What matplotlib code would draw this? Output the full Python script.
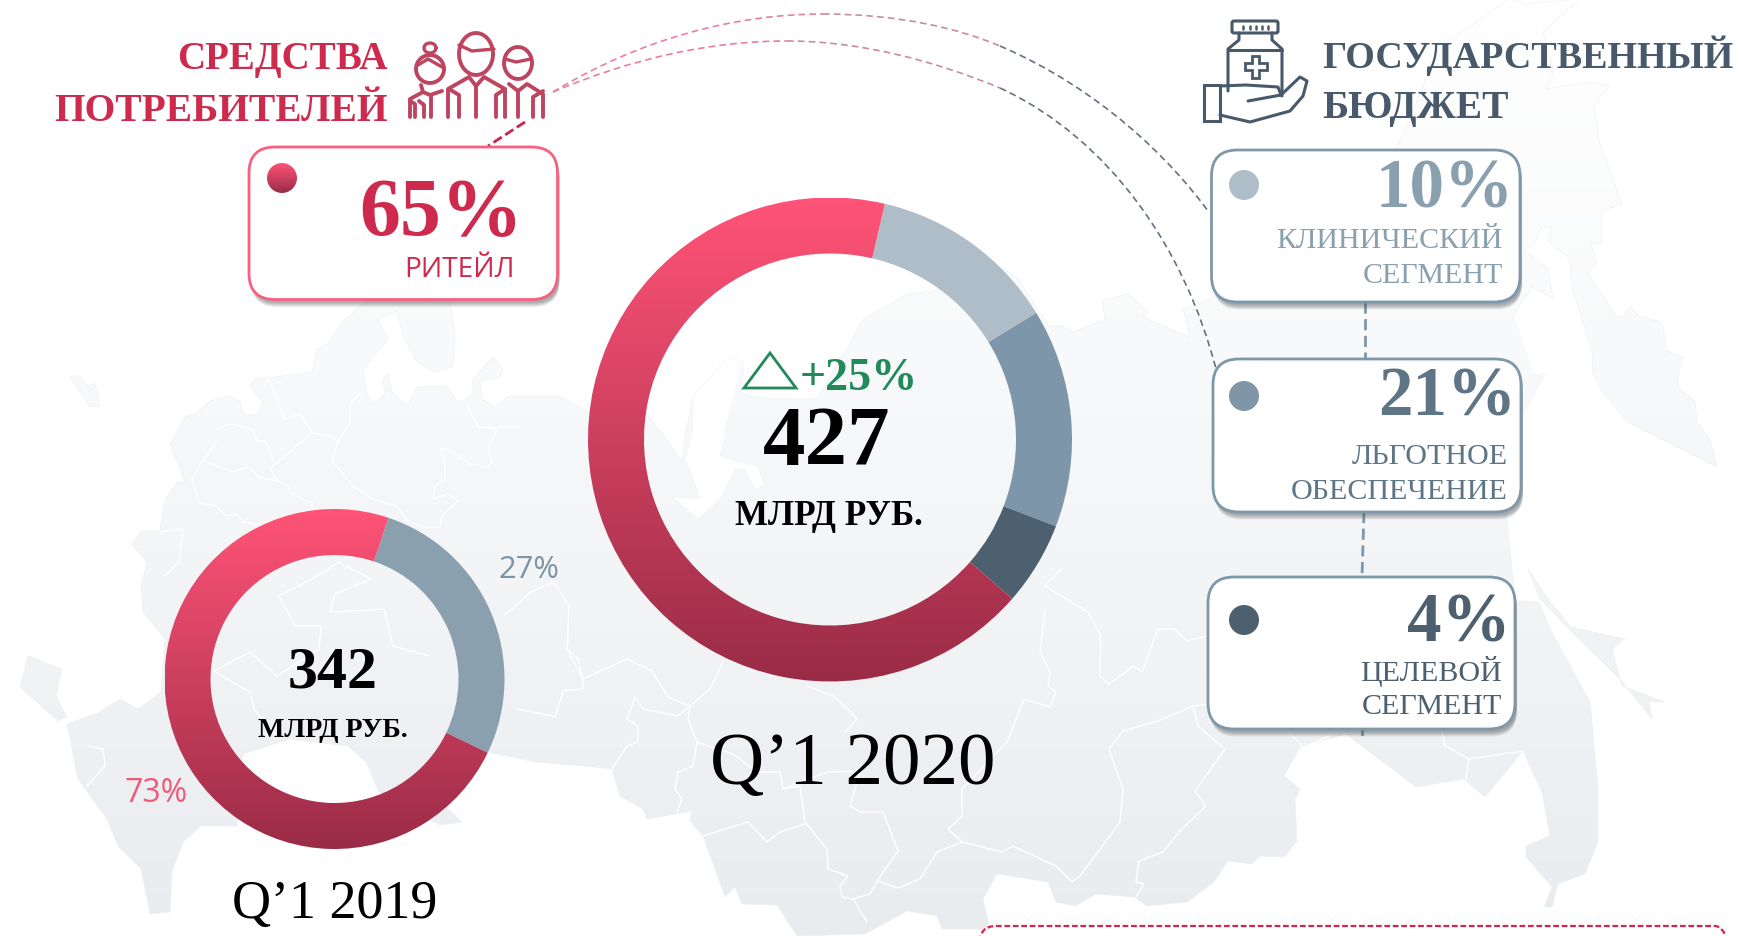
#!/usr/bin/env python3
# coding=utf-8

import numpy as np
import matplotlib
matplotlib.use('Agg')
import matplotlib.pyplot as plt
from matplotlib.colors import LinearSegmentedColormap
from matplotlib.patches import Circle, FancyBboxPatch, PathPatch, Polygon, Rectangle
from matplotlib.path import Path

W, H = 1742, 937
SERIF = 'Liberation Serif'
SANS = 'Open Sans'

# donut values (arc shares as drawn, first wedge starts at start_deg clockwise from 12 o'clock)
shares_2020 = [12.6, 14.6, 5.6, 67.2]
colors_2020 = ['#AFBDC9', '#7E96A9', '#4C606F', '#FF5377']
start_2020 = 13.1
shares_2019 = [27, 73]
colors_2019 = ['#8AA0AF', '#FF5377']
start_2019 = 18.5

seg_values = ['10%', '21%', '4%']
seg_lines = [['КЛИНИЧЕСКИЙ', 'СЕГМЕНТ'], ['ЛЬГОТНОЕ', 'ОБЕСПЕЧЕНИЕ'], ['ЦЕЛЕВОЙ', 'СЕГМЕНТ']]

# map outline in picture pixels
mainland = [(367, 302), (343, 322), (328, 345), (317, 350), (312, 373), (268, 379), (257, 379), (249, 387),
            (263, 403), (257, 416), (243, 415), (240, 402), (227, 397), (210, 402), (195, 415), (185, 418),
            (170, 445), (185, 483), (178, 483), (165, 500), (160, 532), (142, 532), (132, 545), (147, 563),
            (141, 587), (143, 613), (165, 640), (161, 693), (138, 710), (120, 700), (100, 713), (67, 725),
            (78, 780), (107, 820), (118, 847), (141, 870), (150, 915), (170, 913), (172, 873), (183, 843),
            (201, 827), (237, 827), (243, 755), (290, 740), (348, 747), (366, 763), (379, 793), (440, 826),
            (462, 823), (446, 808), (487, 753), (536, 763), (585, 767), (612, 770), (620, 797), (643, 810),
            (647, 820), (692, 812), (690, 822), (703, 837), (725, 898), (735, 888), (742, 905), (777, 906),
            (797, 937), (865, 935), (907, 912), (937, 917), (942, 930), (990, 930), (983, 900), (997, 875),
            (1048, 883), (1056, 903), (1075, 907), (1096, 895), (1134, 898), (1147, 907), (1187, 903),
            (1214, 883), (1228, 862), (1252, 865), (1260, 857), (1284, 858), (1297, 842), (1295, 800),
            (1300, 790), (1284, 777), (1300, 748), (1346, 735), (1416, 788), (1464, 780), (1485, 798),
            (1523, 752), (1542, 793), (1550, 837), (1526, 847), (1526, 858), (1552, 888), (1544, 908),
            (1552, 908), (1558, 885), (1585, 875), (1598, 843), (1598, 787), (1590, 703), (1550, 630),
            (1539, 603), (1515, 602), (1505, 500), (1523, 415), (1545, 375), (1533, 377), (1513, 317),
            (1532, 288), (1553, 299), (1548, 270), (1523, 250), (1533, 247), (1542, 228), (1552, 228),
            (1548, 242), (1570, 260), (1572, 287), (1593, 357), (1592, 372), (1603, 393), (1627, 423),
            (1717, 468), (1710, 440), (1697, 423), (1695, 402), (1678, 388), (1678, 375), (1683, 358),
            (1667, 352), (1662, 323), (1640, 318), (1630, 308), (1623, 318), (1617, 318), (1588, 275),
            (1597, 263), (1590, 243), (1602, 245), (1602, 212), (1622, 205), (1599, 142), (1594, 107),
            (1609, 87), (1592, 83), (1546, 90), (1554, 72), (1543, 33), (1580, 0), (1527, 5), (1509, 0),
            (1467, 30), (1441, 43), (1407, 127), (1397, 148), (1300, 250), (1210, 300), (1183, 310),
            (1190, 338), (1143, 318), (1148, 313), (1128, 295), (1102, 302), (1105, 320), (1073, 333),
            (1062, 327), (1049, 327), (1018, 280), (1001, 267), (932, 292), (908, 295), (863, 320),
            (847, 350), (817, 400), (770, 400), (742, 395), (743, 363), (729, 358), (693, 397), (684, 443),
            (682, 462), (646, 413), (588, 413), (560, 397), (520, 397), (508, 397), (495, 408), (482, 400),
            (480, 382), (500, 379), (503, 370), (493, 358), (473, 380), (473, 395), (458, 404), (447, 387),
            (417, 388), (408, 407), (392, 393), (388, 375), (383, 380), (385, 395), (373, 405), (367, 395),
            (363, 370), (388, 340), (378, 320), (397, 312), (403, 337), (417, 363), (433, 373), (453, 368),
            (455, 337), (450, 303)]
kaliningrad = [(28, 657), (62, 670), (56, 697), (67, 718), (58, 722), (20, 688)]
island = [(70, 377), (80, 377), (88, 387), (95, 384), (100, 407), (90, 408)]
sakhalin = [(1528, 570), (1550, 603), (1571, 628), (1625, 640), (1612, 650), (1622, 687), (1665, 703),
            (1649, 703), (1652, 720), (1620, 680), (1571, 632), (1540, 600)]
gulf = [(729, 358), (743, 363), (728, 420), (720, 457), (735, 462), (757, 467), (765, 487), (755, 490),
        (745, 470), (735, 470), (720, 500), (698, 520), (673, 498), (700, 500), (690, 470), (685, 462),
        (693, 430), (693, 397)]

borders = [
    [(217, 430), (230, 425), (253, 431), (257, 442), (265, 442), (275, 465), (270, 470), (278, 482), (288, 487),
     (290, 493), (305, 502), (312, 503), (313, 512)],
    [(217, 443), (202, 462), (192, 480), (198, 503), (215, 507), (227, 517), (237, 515), (243, 523), (263, 527)],
    [(203, 462), (233, 473), (248, 468), (260, 479), (278, 482)],
    [(275, 465), (290, 453), (312, 434), (330, 437), (338, 443), (332, 462), (353, 487), (373, 500), (397, 507),
     (408, 522), (422, 528), (440, 528), (442, 517), (458, 502), (448, 495), (433, 500), (435, 487), (445, 480),
     (445, 463), (440, 450), (448, 450), (470, 465), (488, 468), (492, 463), (488, 450), (497, 430), (478, 428),
     (465, 403)],
    [(268, 379), (285, 420), (300, 415), (312, 433)],
    [(338, 443), (350, 423), (350, 405), (360, 395)],
    [(478, 428), (520, 428)],
    [(568, 640), (567, 650), (578, 660), (583, 680), (583, 690), (563, 692), (555, 718), (543, 715), (517, 710)],
    [(583, 680), (627, 660), (652, 672), (668, 698), (690, 707), (678, 717), (643, 710), (635, 698), (627, 720),
     (638, 727), (638, 743), (627, 747), (612, 770)],
    [(723, 663), (710, 690), (690, 707), (688, 720), (697, 743), (733, 755), (757, 773), (780, 773), (783, 790),
     (800, 787), (805, 823), (827, 850), (828, 870), (848, 877), (840, 887), (842, 898), (853, 900), (867, 923)],
    [(697, 743), (693, 767), (678, 773), (675, 790), (682, 800), (677, 813)],
    [(703, 837), (748, 823), (767, 843), (780, 833), (805, 825)],
    [(783, 790), (827, 773), (860, 772), (850, 807), (860, 813), (883, 813), (898, 852), (877, 882), (870, 895),
     (853, 900)],
    [(877, 882), (898, 889), (920, 880), (937, 853), (962, 843), (948, 830), (962, 817), (962, 790)],
    [(807, 687), (833, 697), (850, 712), (857, 720), (845, 733)],
    [(1061, 570), (1045, 587), (1088, 613), (1101, 637), (1100, 677), (1109, 685), (1134, 667), (1142, 673),
     (1158, 630), (1174, 630), (1187, 642), (1206, 637)],
    [(1045, 610), (1040, 653), (1050, 673), (1048, 687), (1056, 693), (1050, 708), (1024, 700), (1007, 743),
     (962, 790)],
    [(1209, 705), (1193, 707), (1198, 727), (1225, 750), (1195, 792), (1206, 807), (1179, 833), (1163, 853),
     (1139, 862), (1136, 883), (1144, 885), (1136, 898)],
    [(1193, 707), (1158, 722), (1123, 732), (1109, 750), (1123, 790), (1120, 823), (1080, 877), (1072, 883),
     (1056, 867), (1013, 847), (1002, 853), (962, 843)],
    [(1442, 732), (1445, 747), (1469, 760), (1466, 780)],
    [(1469, 760), (1523, 752)],
    [(1289, 733), (1303, 748), (1330, 737)],
    [(161, 533), (183, 530), (179, 563), (165, 577)],
    [(214, 672), (250, 653), (277, 677), (319, 650), (321, 627), (295, 627), (279, 597), (312, 580), (339, 563),
     (371, 580), (335, 595), (330, 613), (353, 612), (384, 610), (393, 647), (429, 657)],
    [(214, 672), (232, 683), (250, 693), (254, 710), (277, 737)],
    [(504, 617), (531, 593), (554, 583), (569, 607), (567, 650), (583, 680)],
    [(89, 747), (103, 750), (105, 767), (87, 787)],
]


def py(y):
    return H - y


def px(size):
    # font height in picture pixels -> points at dpi 100
    return size * 0.72


def pts(points):
    return [(x, py(y)) for x, y in points]


def put(x, y, s, size, color, family=SERIF, weight='normal', ha='right'):
    ax.text(x, py(y), s, fontsize=px(size), color=color, family=family, weight=weight, ha=ha, va='baseline', zorder=8)


def gradient(stops, left, right, top, bottom, clip, zorder):
    cmap = LinearSegmentedColormap.from_list('g', stops)
    im = ax.imshow(np.linspace(0, 1, 256).reshape(-1, 1), cmap=cmap, aspect='auto', origin='upper',
                   extent=(left, right, py(bottom), py(top)), zorder=zorder, interpolation='bilinear')
    im.set_clip_path(clip)


def donut(values, colors, start, cx, cy, r, r_in):
    wedges, _ = ax.pie(values, colors=colors, startangle=90 - start, counterclock=False, radius=r,
                       center=(cx, py(cy)), frame=True, wedgeprops=dict(width=r - r_in, linewidth=0))
    for w in wedges:
        w.set_zorder(3)
    # pink part is a vertical gradient
    wedges[-1].set_facecolor('none')
    gradient(['#FF5377', '#9A2C46'], cx - r, cx + r, cy - r, cy + r, wedges[-1], 3)


def card(left, top, right, bottom, edge):
    w, h = right - left, bottom - top
    for i in range(7, 0, -1):
        ax.add_patch(FancyBboxPatch((left + 2, py(bottom) - 2 - i * 0.8), w, h, boxstyle='round,pad=0,rounding_size=26',
                                    fc='#50565c', ec='none', alpha=0.09, zorder=5))
    ax.add_patch(FancyBboxPatch((left, py(bottom)), w, h, boxstyle='round,pad=0,rounding_size=26',
                                fc='white', ec=edge, lw=2, zorder=6))


def icon_line(points, color, lw=2.8):
    arr = np.array(pts(points))
    ax.plot(arr[:, 0], arr[:, 1], color=color, lw=lw, solid_capstyle='round', solid_joinstyle='round', zorder=7)


def curve(p0, c1, c2, p1, color):
    verts = pts([p0, c1, c2, p1])
    ax.add_patch(PathPatch(Path(verts, [Path.MOVETO, Path.CURVE4, Path.CURVE4, Path.CURVE4]), fc='none', ec=color,
                           lw=1.2, ls=(0, (4, 2.5)), zorder=2))


fig = plt.figure(figsize=(W / 100, H / 100), dpi=100)
ax = fig.add_axes([0, 0, 1, 1])

# map background
verts, codes = [], []
for poly in [mainland, kaliningrad, island, sakhalin]:
    verts += pts(poly) + [(0, 0)]
    codes += [Path.MOVETO] + [Path.LINETO] * (len(poly) - 1) + [Path.CLOSEPOLY]
land = PathPatch(Path(verts, codes), fc='none', ec='#ECEEF0', lw=0.4, zorder=1)
ax.add_patch(land)
gradient([(0, '#FFFFFF'), (0.4, '#F8F9FA'), (1, '#E9ECEF')], 0, W, 0, H, land, 0)
ax.add_patch(Polygon(pts(gulf), closed=True, fc='white', ec='#F4F5F6', lw=0.4, zorder=1))
for b in borders:
    arr = np.array(pts(b))
    ax.plot(arr[:, 0], arr[:, 1], color='white', lw=1.0, zorder=1)

# dashed connectors from the consumer icon over to the right cards
curve((553, 93), (640, 40), (735, 15), (823, 15), '#EB7F9A')
curve((823, 15), (900, 15), (960, 30), (1000, 47), '#C98BA3')
curve((1000, 47), (1100, 90), (1170, 160), (1208, 212), '#66707E')
curve((553, 93), (630, 60), (710, 42), (787, 42), '#EB7F9A')
curve((787, 42), (860, 42), (935, 62), (1000, 89), '#C98BA3')
curve((1000, 89), (1110, 140), (1185, 250), (1216, 370), '#66707E')
ax.plot([525, 488], [py(123), py(147)], color='#C9234B', lw=2, ls=(0, (3.5, 1.5)), zorder=2)
ax.plot([1365, 1365], [py(303), py(360)], color='#7E97A9', lw=2, ls=(0, (4, 2)), zorder=2)
ax.plot([1364, 1362], [py(513), py(578)], color='#7E97A9', lw=2, ls=(0, (4, 2)), zorder=2)
ax.plot([1362, 1362], [py(730), py(735)], color='#7E97A9', lw=2, zorder=2)

# donuts
donut(shares_2020, colors_2020, start_2020, 830, 440.5, 242, 186)
donut(shares_2019, colors_2019, start_2019, 334.5, 680, 170, 124)

# bottom dashed frame, runs off the picture
ax.add_patch(FancyBboxPatch((980, py(1000)), 751, 73, boxstyle='round,pad=0,rounding_size=16', fc='none',
                            ec='#D5244E', lw=1.6, ls=(0, (2.6, 1.2)), zorder=2))

# cards
card(249, 148, 557.5, 300.5, '#F9607F')
card(1211.5, 151, 1520, 303, '#7E97A9')
card(1213, 360, 1521, 513, '#7E97A9')
card(1208, 578, 1515, 730, '#7E97A9')

dot = Circle((282, py(179)), 15, fc='none', ec='none', zorder=7)
ax.add_patch(dot)
gradient(['#FF5377', '#9A2C46'], 267, 297, 164, 194, dot, 7)
for (cx, cy), c in zip([(1244, 186), (1244, 397), (1244, 621)], ['#AFBDC9', '#7F96A9', '#4C6070']):
    ax.add_patch(Circle((cx, py(cy)), 15, fc=c, ec='none', zorder=7))

# headers
put(388, 69, 'СРЕДСТВА', 39, '#CE2A4D', weight='bold')
put(388, 121, 'ПОТРЕБИТЕЛЕЙ', 39.5, '#CE2A4D', weight='bold')
put(1322, 68, 'ГОСУДАРСТВЕННЫЙ', 38, '#47596A', weight='bold', ha='left')
put(1322, 118, 'БЮДЖЕТ', 39.5, '#47596A', weight='bold', ha='left')

# card texts
put(523, 235, '65%', 82, '#CE2A4D', weight='bold')
put(515, 277, 'РИТЕЙЛ', 28, '#CE2A4D', family=SANS)

value_pos = [(1514, 207), (1516, 415), (1511, 641)]
line_pos = [(1503, 248, 283), (1508, 464, 499), (1502, 681, 714)]
value_col = ['#8AA0AF', '#5E7585', '#4C6070']
for val, lines, vp, lp, col in zip(seg_values, seg_lines, value_pos, line_pos, value_col):
    put(vp[0], vp[1], val, 69, col, weight='bold')
    put(lp[0], lp[1], lines[0], 30, col)
    put(lp[0], lp[2], lines[1], 30, col)

# centre of the big donut
ax.add_patch(Polygon(pts([(770, 354), (744, 389), (796, 389)]), closed=True, fc='none', ec='#21895A', lw=2, zorder=8))
put(800, 390, '+25%', 46, '#21895A', weight='bold', ha='left')
put(827, 465, '427', 85, 'black', weight='bold', ha='center')
put(829, 525, 'МЛРД РУБ.', 35, 'black', weight='bold', ha='center')
put(853, 784, 'Q’1 2020', 75, 'black', ha='center')

# small donut
put(333, 688, '342', 60, 'black', weight='bold', ha='center')
put(333, 737, 'МЛРД РУБ.', 28, 'black', weight='bold', ha='center')
put(335, 918, 'Q’1 2019', 54, 'black', ha='center')
put(529, 578, '27%', 31, '#7D94A5', family=SANS, ha='center')
put(156, 802, '73%', 32, '#F2587A', family=SANS, ha='center')

# people icon
red = '#BE4560'
for cx, cy, rx, ry in [(430, 70, 14, 14), (476, 55, 17, 21), (518, 64, 14, 16)]:
    t = np.linspace(0, 2 * np.pi, 50)
    icon_line(list(zip(cx + rx * np.cos(t), cy + ry * np.sin(t))), red)
t = np.linspace(0, 2 * np.pi, 30)
icon_line(list(zip(430 + 6 * np.cos(t), 49 + 5 * np.sin(t))), red, 2.4)
icon_line([(418, 66), (428, 60), (442, 68)], red, 2.4)
icon_line([(459, 46), (472, 52), (494, 50)], red, 2.4)
icon_line([(505, 60), (516, 63), (531, 60)], red, 2.4)
icon_line([(410, 118), (410, 100), (423, 93), (430, 96), (442, 92)], red)
icon_line([(421, 86), (423, 93)], red)
icon_line([(415, 118), (415, 105), (410, 102)], red)
icon_line([(431, 118), (431, 96)], red)
icon_line([(424, 118), (424, 106), (419, 102)], red)
icon_line([(448, 118), (448, 90), (469, 78), (476, 87), (484, 78), (505, 90), (505, 118)], red)
icon_line([(476, 87), (476, 118)], red)
icon_line([(459, 118), (459, 96), (449, 90)], red)
icon_line([(496, 118), (496, 96), (505, 90)], red)
icon_line([(509, 85), (518, 92), (527, 85), (543, 95), (543, 118)], red)
icon_line([(518, 92), (518, 118)], red)
icon_line([(533, 118), (533, 98), (543, 92)], red)

# bottle in a hand icon
slate = '#47596A'
ax.add_patch(FancyBboxPatch((1232, py(34)), 46, 12, boxstyle='round,pad=0,rounding_size=2', fc='none', ec=slate,
                            lw=2.2, zorder=7))
for x in [1243, 1250, 1256, 1262, 1268]:
    icon_line([(x, 27), (x, 30)], slate, 1.8)
icon_line([(1239, 34), (1239, 41), (1228, 50), (1228, 92)], slate, 2.2)
icon_line([(1272, 34), (1272, 41), (1282, 50), (1282, 97)], slate, 2.2)
icon_line([(1228, 51), (1282, 51)], slate, 2.2)
ax.add_patch(Polygon(pts([(1252, 57), (1259, 57), (1259, 64), (1267, 64), (1267, 71), (1259, 71), (1259, 79),
                          (1252, 79), (1252, 71), (1245, 71), (1245, 64), (1252, 64)]), closed=True, fc='none',
                     ec=slate, lw=2, zorder=7))
ax.add_patch(Rectangle((1204, py(122)), 16, 36, fc='none', ec=slate, lw=2.2, zorder=7))
icon_line([(1220, 87), (1246, 86), (1278, 88), (1281, 96), (1248, 102)], slate, 2.2)
icon_line([(1281, 96), (1300, 78), (1307, 82), (1303, 97), (1290, 112), (1250, 123), (1220, 116)], slate, 2.2)

ax.set_xlim(0, W)
ax.set_ylim(0, H)
ax.set_aspect('auto')
ax.axis('off')
fig.savefig('out.png', dpi=100, facecolor='white')
